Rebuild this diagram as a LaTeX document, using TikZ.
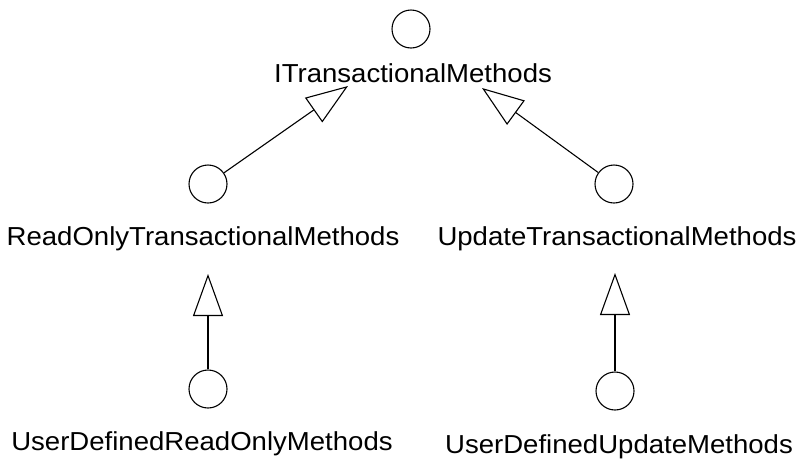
\documentclass[tikz,border=0pt]{standalone}
\usepackage{fontspec}
\setmainfont{Liberation Sans}[FakeStretch=1.06]
\usetikzlibrary{arrows.meta}

\tikzset{
  iface/.style={circle, draw, line width=1.1pt, minimum size=38pt, inner sep=0pt},
  ilabel/.style={anchor=base, inner sep=0pt, font=\fontsize{26}{30}\selectfont},
  realizes/.style={line width=1.1pt, -{Triangle[open, length=42pt, width=30pt, line width=1.1pt]}}
}

\begin{document}
\begin{tikzpicture}[x=1pt, y=-1pt]
  \useasboundingbox (0,0) rectangle (797,464);

  % Interfaces
  \node[iface] (itm) at (411,29) {};
  \node[iface] (ro) at (208,184) {};
  \node[iface] (upd) at (614,184) {};
  \node[iface] (udro) at (208,389) {};
  \node[iface] (udupd) at (615,391) {};

  % Names
  \node[ilabel] (itmname) at (413,82) {ITransactionalMethods};
  \node[ilabel] (roname) at (203,245) {ReadOnlyTransactionalMethods};
  \node[ilabel] (updname) at (617,245) {UpdateTransactionalMethods};
  \node[ilabel] (udroname) at (202,450) {UserDefinedReadOnlyMethods};
  \node[ilabel] (udupdname) at (619,453) {UserDefinedUpdateMethods};

  % Arrow ends
  \coordinate (itmleft) at (348,86);
  \coordinate (itmright) at (482,88);
  \coordinate (rotip) at (208,274);
  \coordinate (updtip) at (615,273);

  % Generalisations
  \draw[realizes] (ro) -- (itmleft);
  \draw[realizes] (upd) -- (itmright);
  \draw[realizes] (udro) -- (rotip);
  \draw[realizes] (udupd) -- (updtip);
\end{tikzpicture}
\end{document}
